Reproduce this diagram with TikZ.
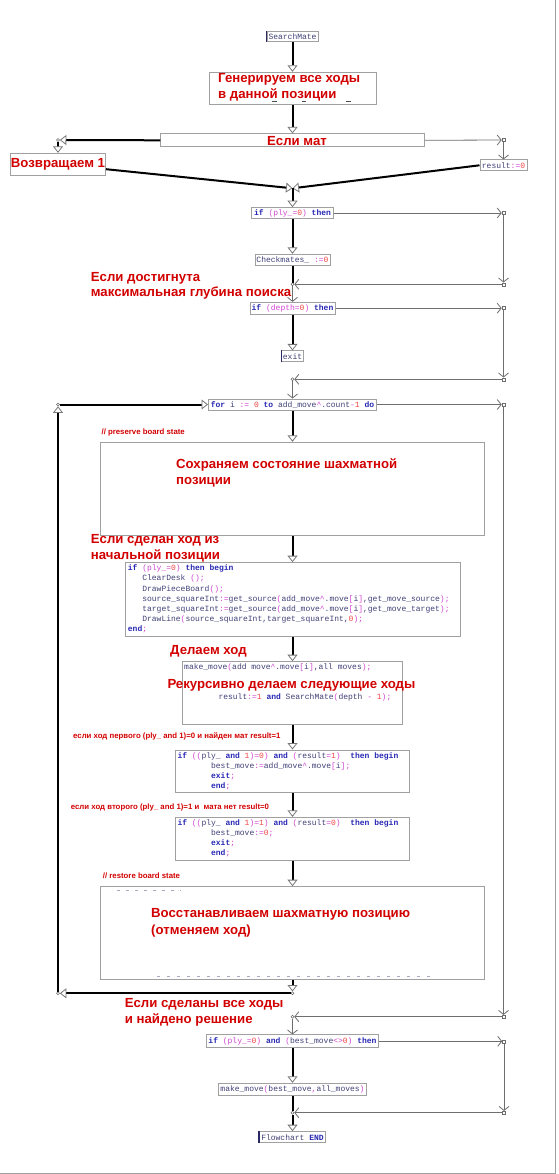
\documentclass[tikz,border=0pt]{standalone}
\usepackage{fontspec}
\setmainfont{Liberation Sans}
\setmonofont{Liberation Mono}
\usetikzlibrary{arrows.meta}
\definecolor{notered}{RGB}{210,0,0}
\definecolor{boxgray}{RGB}{160,160,160}
\definecolor{linegray}{RGB}{110,110,110}
\definecolor{tipgray}{RGB}{120,120,120}
\definecolor{identcol}{RGB}{64,64,120}
\definecolor{kwblue}{RGB}{40,40,180}
\definecolor{symmag}{RGB}{210,70,210}
\definecolor{numred}{RGB}{240,70,70}
\definecolor{termbar}{RGB}{40,40,100}
\newcommand{\ckw}[1]{\textcolor{kwblue}{\bfseries #1}}
\newcommand{\csy}[1]{\textcolor{symmag}{#1}}
\newcommand{\cnum}[1]{\textcolor{numred}{#1}}
\tikzset{
    blockbox/.style={draw=boxgray, line width=1pt, fill=white, inner sep=0pt}, % рамка блока
    code/.style={font=\fontsize{8}{10.15}\selectfont\ttfamily, text=identcol, inner sep=0pt}, % текст программы
    note/.style={font=\fontsize{13.2}{15.5}\selectfont\bfseries, text=notered, align=left, inner sep=0pt}, % красные пояснения
    small note/.style={font=\fontsize{7.8}{9}\selectfont\bfseries, text=notered, inner sep=0pt},
    flow/.style={line width=2pt, -{Triangle[width=10pt,length=6.5pt,fill=white,color=tipgray,line width=0.8pt]}},
    flow plain/.style={line width=2pt},
    side/.style={line width=0.8pt, draw=linegray, -{Straight Barb[length=4pt,width=10pt]}},
    jsq/.style={draw=linegray, fill=white, inner sep=0pt, minimum size=3pt, line width=0.6pt},
    jdot/.style={circle, draw=linegray, fill=white, inner sep=0pt, minimum size=3pt, line width=0.6pt}
}

\begin{document}
\begin{tikzpicture}[x=1pt, y=-1pt]
  \useasboundingbox (0,0) rectangle (558,1174);
  % --- рамка листа ---
  \draw[boxgray, line width=1pt] (555,0) -- (555,1173) -- (0,1173);

  % --- 1. блоки схемы ---
  \node[blockbox, code, minimum width=51pt, minimum height=10.7pt] (start) at (292.5,36.4) {SearchMate};
  \node[blockbox, minimum width=167pt, minimum height=32pt] (gen) at (292.5,88.3) {};
  \node[blockbox, minimum width=263.5pt, minimum height=12.7pt] (mate) at (292.5,140.3) {};
  \node[blockbox, note, align=center, minimum width=95pt, minimum height=21.7pt] (ret) at (58,164.2) {Возвращаем 1};
  \node[blockbox, code, minimum width=47pt, minimum height=10.7pt] (res) at (503.5,165.3) {result\csy{:=}\cnum{0}};
  \node[blockbox, code, minimum width=81.5pt, minimum height=10.6pt] (ply) at (292.5,213) {\ckw{if} \csy{(ply\_=}\cnum{0}\csy{)} \ckw{then}};
  \node[blockbox, code, minimum width=75pt, minimum height=11.4pt] (chk) at (292.5,260) {Checkmates\_ \csy{:=}\cnum{0}};
  \node[blockbox, code, minimum width=85pt, minimum height=11.7pt] (depth) at (292.5,308.2) {\ckw{if} \csy{(depth=}\cnum{0}\csy{)} \ckw{then}};
  \node[blockbox, code, minimum width=21.5pt, minimum height=10.7pt] (quit) at (292.5,356.3) {exit};
  \node[blockbox, code, minimum width=168pt, minimum height=11pt] (loop) at (292.5,404.5) {\ckw{for} i \csy{:=} \cnum{0} \ckw{to} add\_move\csy{\textasciicircum}.count\csy{-}\cnum{1} \ckw{do}};
  \node[blockbox, minimum width=383.3pt, minimum height=93.4pt] (save) at (292.5,489) {};
  \node[blockbox, minimum width=335pt, minimum height=74pt] (show) at (292.5,599.7) {};
  \node[blockbox, minimum width=220.4pt, minimum height=62.6pt] (make) at (292.5,693) {};
  \node[blockbox, minimum width=234.3pt, minimum height=42.3pt] (first) at (292.5,771.2) {};
  \node[blockbox, minimum width=234.3pt, minimum height=42.7pt] (second) at (292.5,838.7) {};
  \node[blockbox, minimum width=383.3pt, minimum height=92.6pt] (undo) at (292.5,933) {};
  \node[blockbox, code, minimum width=172.3pt, minimum height=12.7pt] (best) at (292.5,1041.3) {\ckw{if} \csy{(ply\_=}\cnum{0}\csy{)} \ckw{and} \csy{(}best\_move\csy{<>}\cnum{0}\csy{)} \ckw{then}};
  \node[blockbox, code, minimum width=148.4pt, minimum height=12.4pt] (apply) at (292.5,1089.5) {make\_move\csy{(}best\_move\csy{,}all\_moves\csy{)}};
  \node[blockbox, code, minimum width=65.7pt, minimum height=11pt] (finish) at (292.5,1137.2) {Flowchart \ckw{END}};
  \foreach \t in {start, quit, finish}
    \draw[termbar, line width=1.5pt] (\t.north west) -- (\t.south west);

  % --- 2. узлы слияния ---
  \node[jdot] (jl) at (58,140) {};
  \node[jsq] (jr) at (503.5,140) {};
  \coordinate (merge) at (292.5,188.3);
  \node[jsq] (p1) at (503.5,213) {};
  \node[jsq] (p2) at (503.5,284.3) {};
  \node[jdot] (s1) at (292.5,284.3) {};
  \node[jsq] (d1) at (503.5,308.2) {};
  \node[jsq] (d2) at (503.5,379.3) {};
  \node[jdot] (s2) at (292.5,379.3) {};
  \node[jsq] (f1) at (503.5,404.5) {};
  \node[jsq] (f2) at (503.5,1016.7) {};
  \node[jdot] (s3) at (292.5,1016.7) {};
  \node[jdot] (back) at (292.5,993.3) {};
  \node[jdot] (lc) at (58,993.3) {};
  \node[jdot] (lt) at (58,404.5) {};
  \node[jsq] (b1) at (504,1041.3) {};
  \node[jsq] (b2) at (504,1112.7) {};
  \node[jdot] (s4) at (292.5,1112.7) {};

  % --- 3. связи ---
  \draw[flow] (start) -- (gen);
  \draw[flow] (gen) -- (mate);
  \draw[flow] (mate.west) -- (jl);
  \draw[flow] (jl) -- (ret);
  \draw[side] (mate.east) -- (jr);
  \draw[side] (jr) -- (res);
  \draw[flow] ([yshift=-5pt]ret.east) -- (merge);
  \draw[flow] (res.west) -- (merge);
  \draw[flow] (merge) -- (ply);
  \draw[flow] (ply) -- (chk);
  \draw[flow plain] (chk) -- (s1);
  \draw[side] (ply) -- (p1);
  \draw[side] (p1) -- (p2);
  \draw[side] (p2) -- (s1);
  \draw[side] (s1) -- (depth);
  \draw[flow] (depth) -- (quit);
  \draw[side] (depth) -- (d1);
  \draw[side] (d1) -- (d2);
  \draw[side] (d2) -- (s2);
  \draw[side] (s2) -- (loop);
  \draw[side] (loop) -- (f1);
  \draw[side] (f1) -- (f2);
  \draw[side] (f2) -- (s3);
  \draw[flow] (loop) -- (save);
  \draw[flow] (save) -- (show);
  \draw[flow] (show) -- (make);
  \draw[flow] (make) -- (first);
  \draw[flow] (first) -- (second);
  \draw[flow] (second) -- (undo);
  \draw[flow] (undo) -- (back);
  \draw[flow] (back) -- (lc);
  \draw[flow] (lc) -- (lt);
  \draw[flow] (lt) -- (loop);
  \draw[side] (s3) -- (best);
  \draw[side] (best) -- (b1);
  \draw[side] (b1) -- (b2);
  \draw[side] (b2) -- (s4);
  \draw[flow] (best) -- (apply);
  \draw[flow plain] (apply) -- (s4);
  \draw[flow] (s4) -- (finish);

  % --- 4. текст программы (base = последняя строка) ---
  \node[code, anchor=base west, align=left] (showcode) at (127.7,631.7) {%
    \ckw{if} \csy{(ply\_=}\cnum{0}\csy{)} \ckw{then begin}\\
    ~~~ClearDesk \csy{();}\\
    ~~~DrawPieceBoard\csy{();}\\
    ~~~source\_squareInt\csy{:=}get\_source\csy{(}add\_move\csy{\textasciicircum}.move\csy{[}i\csy{]},get\_move\_source\csy{);}\\
    ~~~target\_squareInt\csy{:=}get\_source\csy{(}add\_move\csy{\textasciicircum}.move\csy{[}i\csy{]},get\_move\_target\csy{);}\\
    ~~~DrawLine\csy{(}source\_squareInt,target\_squareInt,\cnum{0}\csy{);}\\
    \ckw{end}\csy{;}};
  \node[code, anchor=base west] (makecode) at (184,669.8) {make\_move\csy{(}add move\csy{\textasciicircum}.move\csy{[}i\csy{]},all moves\csy{);}};
  \node[code, anchor=base west] (reccode) at (218.3,699.8) {result\csy{:=}\cnum{1} \ckw{and} SearchMate\csy{(}depth \csy{-} \cnum{1}\csy{);}};
  \node[code, anchor=base west, align=left] (firstcode) at (177.3,788.6) {%
    \ckw{if} \csy{((}ply\_ \ckw{and} \cnum{1}\csy{)=}\cnum{0}\csy{)} \ckw{and} \csy{(}result\csy{=}\cnum{1}\csy{)}~~\ckw{then begin}\\
    ~~~~~~~best\_move\csy{:=}add\_move\csy{\textasciicircum}.move\csy{[}i\csy{];}\\
    ~~~~~~~\ckw{exit}\csy{;}\\
    ~~~~~~~\ckw{end}\csy{;}};
  \node[code, anchor=base west, align=left] (secondcode) at (177.3,855.6) {%
    \ckw{if} \csy{((}ply\_ \ckw{and} \cnum{1}\csy{)=}\cnum{1}\csy{)} \ckw{and} \csy{(}result\csy{=}\cnum{0}\csy{)}~~\ckw{then begin}\\
    ~~~~~~~best\_move\csy{:=}\cnum{0}\csy{;}\\
    ~~~~~~~\ckw{exit}\csy{;}\\
    ~~~~~~~\ckw{end}\csy{;}};
  % остатки текста под надписями
  \foreach \x in {274.5,304,348.3}
    \draw[black!70, line width=0.8pt] (\x-2.2,101.7) -- (\x+2.2,101.7);
  \draw[identcol!45, line width=0.8pt, dash pattern=on 3pt off 6pt] (117,890) -- (181,890);
  \draw[identcol!45, line width=0.8pt, dash pattern=on 3pt off 7pt] (157,976.5) -- (430,976.5);

  % --- 5. пояснения ---
  \node[note, anchor=base west] (gentxt) at (218,98.3) {Генерируем все ходы\\в данной позиции};
  \node[note, anchor=base] (matetxt) at (297,145.5) {Если мат};
  \node[note, anchor=base west] (depthtxt) at (90.7,296.6) {Если достигнута\\максимальная глубина поиска};
  \node[small note, anchor=base west] (savecmt) at (101.4,434.3) {// preserve board state};
  \node[note, anchor=base west] (savetxt) at (176,484.4) {Сохраняем состояние шахматной\\позиции};
  \node[note, anchor=base west] (showtxt) at (90.7,559.3) {Если сделан ход из\\начальной позиции};
  \node[note, anchor=base west] (maketxt) at (170,654) {Делаем ход};
  \node[note, anchor=base west] (rectxt) at (167.3,688.3) {Рекурсивно делаем следующие ходы};
  \node[small note, anchor=base west] (firsttxt) at (73,738.5) {если ход первого (ply\_ and 1)=0 и найден мат result=1};
  \node[small note, anchor=base west] (secondtxt) at (70.7,809) {если ход второго (ply\_ and 1)=1 и~~мата нет result=0};
  \node[small note, anchor=base west] (undocmt) at (102.7,878.5) {// restore board state};
  \node[note, font=\fontsize{13.2}{16.7}\selectfont\bfseries, anchor=base west] (undotxt) at (151,934) {Восстанавливаем шахматную позицию\\(отменяем ход)};
  \node[note, anchor=base west] (donetxt) at (124.6,1023.3) {Если сделаны все ходы\\и найдено решение};
\end{tikzpicture}
\end{document}
